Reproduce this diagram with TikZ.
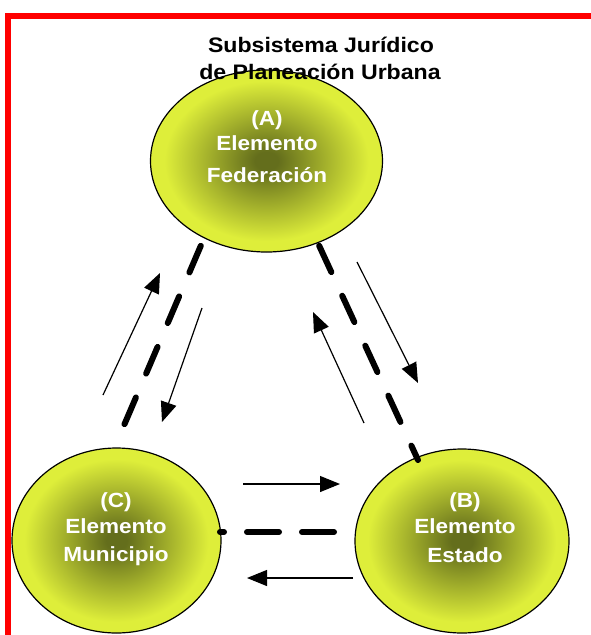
\documentclass[tikz,border=0pt]{standalone}
\usepackage{fontspec}
\setmainfont{Liberation Sans}[FakeStretch=1.1]
\usetikzlibrary{shapes.geometric,arrows.meta}
\definecolor{dk}{RGB}{100,110,28}
\definecolor{yl}{RGB}{222,238,58}
\pgfdeclareradialshading{ellshade}{\pgfpoint{0bp}{0bp}}{color(0bp)=(dk); color(2.5bp)=(dk); color(22bp)=(yl); color(50bp)=(yl)}
\begin{document}
\begin{tikzpicture}[x=1pt,y=-1pt,
  elem/.style={ellipse, draw=black, line width=1.2pt, shading=ellshade, inner sep=0pt},
  lbl/.style={text=white, font=\bfseries\fontsize{20.5}{26}\selectfont, anchor=base, inner sep=0pt},
  ttl/.style={text=black, font=\bfseries\fontsize{21}{27}\selectfont, anchor=base, inner sep=0pt},
  dashcon/.style={line width=6pt, line cap=round, dash pattern=on 29pt off 26pt},
  thinarrow/.style={line width=1.2pt, -{Triangle[length=20pt,width=16pt]}}]
\useasboundingbox (0,0) rectangle (590,635);
% red frame
\draw[red, line width=6pt] (8,645) -- (8,16) -- (600,16);
% ellipses
\node[elem, minimum width=232pt, minimum height=182pt] (A) at (266.5,161) {};
\node[elem, minimum width=209pt, minimum height=185pt] (C) at (116.5,540.5) {};
\node[elem, minimum width=214pt, minimum height=184pt] (B) at (462,541) {};
% labels
\node[lbl] (A1) at (267,125.5) {(A)};
\node[lbl] (A2) at (267,150.5) {Elemento};
\node[lbl] (A3) at (267,182.5) {Federación};
\node[lbl] (C1) at (116,507.5) {(C)};
\node[lbl] (C2) at (116,533.5) {Elemento};
\node[lbl] (C3) at (116,561.5) {Municipio};
\node[lbl] (B1) at (465,507.5) {(B)};
\node[lbl] (B2) at (465,533.5) {Elemento};
\node[lbl] (B3) at (465,562.5) {Estado};
% title
\node[ttl] (T1) at (321,52.5) {Subsistema Jurídico};
\node[ttl] (T2) at (320,79.5) {de Planeación Urbana};
% connector end points
\coordinate (ac1) at (200.8,245.8);
\coordinate (ac2) at (122,430);
\coordinate (ab1) at (319.2,245.8);
\coordinate (ab2) at (418,460);
\coordinate (cb1) at (220,532);
\coordinate (cb2) at (336,532);
\draw[dashcon] (ac1) -- (ac2);
\draw[dashcon] (ab1) -- (ab2);
\draw[line width=6pt, line cap=round, dash pattern=on 32pt off 23pt, dash phase=28pt] (cb1) -- (cb2);
% arrows
\coordinate (p1) at (103,395); \coordinate (q1) at (160,273);
\coordinate (p2) at (202,308); \coordinate (q2) at (162,422);
\coordinate (p3) at (357,262); \coordinate (q3) at (418,383);
\coordinate (p4) at (364,423); \coordinate (q4) at (313,312);
\coordinate (p5) at (243,484); \coordinate (q5) at (340,484);
\coordinate (p6) at (353,578); \coordinate (q6) at (247,578);
\draw[thinarrow] (p1) -- (q1);
\draw[thinarrow] (p2) -- (q2);
\draw[thinarrow] (p3) -- (q3);
\draw[thinarrow] (p4) -- (q4);
\draw[thinarrow] (p5) -- (q5);
\draw[thinarrow] (p6) -- (q6);
\end{tikzpicture}
\end{document}
